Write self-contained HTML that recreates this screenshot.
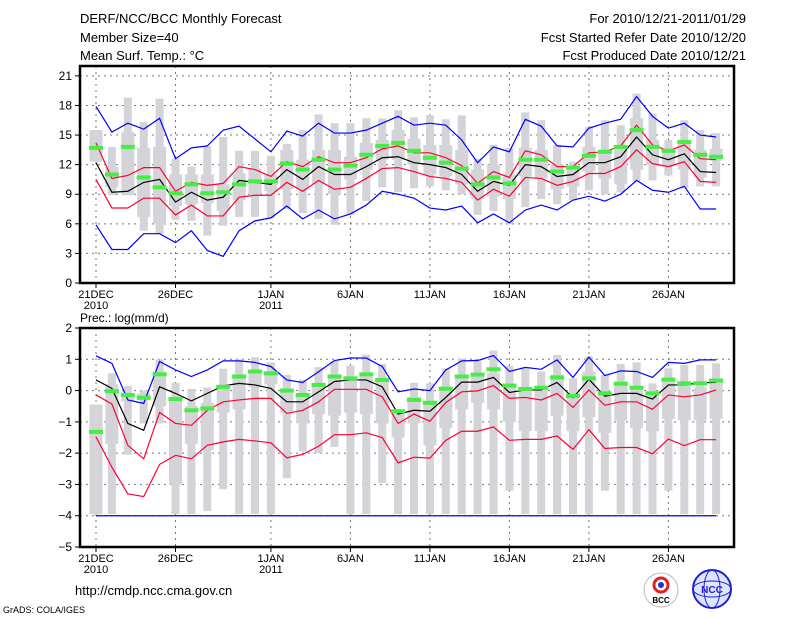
<!DOCTYPE html>
<html><head><meta charset="utf-8"><style>
body{margin:0;background:#fff;width:800px;height:618px;overflow:hidden;font-family:"Liberation Sans",sans-serif;}
svg{display:block}
</style></head><body>
<svg id="chart" width="800" height="618" xmlns="http://www.w3.org/2000/svg">
<g font-size="13" fill="#000">
<text x="80" y="23">DERF/NCC/BCC Monthly Forecast</text>
<text x="80" y="42">Member Size=40</text>
<text x="80" y="60">Mean Surf. Temp.: °C</text>
<text x="746" y="23" text-anchor="end">For 2010/12/21-2011/01/29</text>
<text x="746" y="42" text-anchor="end">Fcst Started Refer Date 2010/12/20</text>
<text x="746" y="60" text-anchor="end">Fcst Produced Date 2010/12/21</text>
</g>
<text x="80" y="322" font-size="12">Prec.: log(mm/d)</text>
<text x="75" y="595" font-size="13">http://cmdp.ncc.cma.gov.cn</text>
<text x="3" y="613" font-size="9">GrADS: COLA/IGES</text>
<g>
<circle cx="661" cy="590" r="17" fill="#fff" stroke="#bbb"/>
<circle cx="661" cy="585" r="7" fill="none" stroke="#d22" stroke-width="3"/>
<circle cx="661" cy="585" r="3" fill="#23c"/>
<text x="661" y="603" font-size="8" text-anchor="middle" font-weight="bold">BCC</text>
</g>
<g>
<circle cx="712" cy="589" r="19" fill="#dde4ff" stroke="#22c" stroke-width="2"/>
<ellipse cx="712" cy="589" rx="19" ry="8" fill="none" stroke="#22c"/>
<ellipse cx="712" cy="589" rx="8" ry="19" fill="none" stroke="#22c"/>
<text x="712" y="593" font-size="10" text-anchor="middle" fill="#22c" font-weight="bold">NCC</text>
</g>
</svg>
<script>
// ---- Temperature data (°C) ----
const days = ['21DEC','','','','','26DEC','','','','','','1JAN','','','','','6JAN','','','','','11JAN','','','','','16JAN','','','','','21JAN','','','','','26JAN','','',''];
const yearLabels = {0:'2010', 11:'2011'};
const tTicks = [0,3,6,9,12,15,18,21];
const tBlueHi = [17.9,15.3,16.2,15.6,16.7,12.6,13.7,13.9,15.5,15.9,14.6,13.3,15.4,14.9,16.2,15.2,15.2,15.5,16.2,16.9,16.0,16.2,16.0,14.5,12.2,13.8,13.3,16.6,15.9,13.9,13.8,15.7,16.2,16.6,18.9,16.9,15.7,16.2,15.0,14.8];
const tBlueLo = [5.9,3.4,3.4,5.0,5.0,4.1,5.3,3.3,2.7,5.3,6.3,6.6,7.8,6.5,7.4,6.5,7.0,7.9,9.3,9.0,8.6,7.6,7.4,7.8,6.1,7.0,6.1,7.4,7.9,7.4,8.4,8.8,8.3,9.0,10.4,9.4,9.2,9.8,7.5,7.5];
const tMean = [12.2,9.2,9.3,10.2,10.5,8.2,9.2,8.4,8.7,10.4,10.2,10.0,11.5,10.5,11.8,11.0,11.0,11.8,12.7,12.8,12.2,12.0,11.7,11.0,9.3,10.3,9.9,12.0,11.8,10.8,11.0,12.2,12.2,12.8,14.8,13.0,12.5,13.1,11.3,11.2];
const tRedHi = [14.2,10.6,10.9,11.7,11.7,9.3,10.2,9.9,10.1,11.8,11.5,10.8,12.3,11.8,12.8,12.2,12.2,12.7,13.6,13.9,13.2,13.2,12.7,11.9,10.1,11.3,10.7,13.4,13.0,11.8,11.8,13.2,13.3,13.9,16.0,14.0,13.4,14.0,12.6,12.5];
const tRedLo = [10.5,7.6,7.6,8.6,8.6,6.9,7.9,6.8,6.8,8.7,8.9,8.9,10.2,9.3,10.4,9.5,9.7,10.6,11.6,11.7,11.3,10.8,10.6,10.2,8.4,9.5,8.8,10.7,10.6,9.9,10.3,11.1,11.1,11.8,13.5,12.1,11.8,12.3,10.3,10.2];
const tObs = [13.7,11.0,13.8,10.7,9.7,9.1,10.0,9.1,9.2,10.0,10.3,10.3,12.1,11.5,12.5,11.5,11.9,13.0,13.9,14.2,13.4,12.7,12.2,11.6,10.0,10.7,10.1,12.5,12.5,11.3,11.7,12.9,13.3,13.8,15.5,13.8,13.4,14.3,13.0,12.8];
const tWhiskHi = [15.5,13.8,18.8,16.3,18.7,12.6,11.8,13.9,14.8,13.4,13.4,12.9,14.1,15.5,17.1,16.2,16.2,16.7,16.7,17.5,16.8,17.0,16.6,17.0,12.6,14.0,13.7,17.3,16.5,14.0,12.3,15.8,16.5,16.0,19.2,17.2,14.5,16.5,15.5,15.2];
const tWhiskLo = [12.3,8.9,8.9,5.3,5.0,6.4,6.3,4.8,5.8,6.7,6.7,6.6,7.5,7.1,6.5,5.9,6.9,8.3,9.7,9.2,9.6,9.8,9.4,9.0,6.9,7.3,6.0,7.7,8.5,8.0,8.4,9.4,9.0,9.2,10.3,10.4,10.9,9.6,9.8,9.8];
const tBoxHi = [15.5,11.8,15.3,13.7,13.8,11.0,11.0,11.0,10.0,11.1,11.6,11.0,13.5,12.5,13.5,13.5,12.8,14.2,14.5,15.5,14.6,14.0,14.0,13.5,11.5,12.0,11.0,13.7,13.5,12.0,11.8,13.8,13.5,13.9,16.7,14.5,13.5,14.5,13.5,13.6];
const tBoxLo = [12.3,9.7,8.9,6.7,6.0,7.8,8.0,8.1,7.3,8.4,9.0,9.3,9.5,9.6,10.0,9.0,10.5,11.5,12.5,12.5,12.0,11.0,10.8,10.0,8.5,8.8,8.5,10.8,10.6,9.5,9.8,11.3,10.6,10.0,11.5,12.0,11.8,11.5,10.7,12.4];
// ---- Precipitation data (log mm/d) ----
const pTicks = [-5,-4,-3,-2,-1,0,1,2];
const pBlueHi = [1.11,0.87,-0.3,-0.41,0.93,0.66,0.45,0.66,0.95,0.95,0.9,0.77,0.34,0.26,0.6,0.96,1.04,1.04,0.77,-0.04,0.05,0.0,0.66,0.95,0.96,1.12,0.61,0.74,0.68,0.98,0.42,1.07,0.48,0.63,0.61,0.42,0.9,0.87,0.98,0.98];
const pBlueLo = [-4,-4,-4,-4,-4,-4,-4,-4,-4,-4,-4,-4,-4,-4,-4,-4,-4,-4,-4,-4,-4,-4,-4,-4,-4,-4,-4,-4,-4,-4,-4,-4,-4,-4,-4,-4,-4,-4,-4,-4];
const pMean = [0.34,0.07,-1.05,-1.27,0.12,-0.09,-0.33,-0.09,0.15,0.23,0.18,0.07,-0.36,-0.36,-0.04,0.29,0.34,0.34,0.12,-0.75,-0.63,-0.66,-0.22,0.27,0.27,0.42,-0.06,0.02,0.02,0.26,-0.23,0.36,-0.18,-0.09,-0.09,-0.27,0.18,0.18,0.25,0.26];
const pRedHi = [-0.14,-0.43,-1.75,-2.18,-0.7,-1.05,-1.11,-0.63,-0.36,-0.3,-0.25,-0.25,-0.73,-0.63,-0.36,0.04,0.04,0.04,-0.2,-1.05,-0.75,-0.98,-0.38,-0.04,-0.01,0.16,-0.25,-0.22,-0.3,-0.09,-0.54,0.02,-0.47,-0.36,-0.36,-0.6,-0.14,-0.2,-0.14,0.02];
const pRedLo = [-1.48,-2.45,-3.3,-3.39,-2.36,-2.07,-2.18,-1.75,-1.64,-1.56,-1.61,-1.67,-2.15,-2.04,-1.78,-1.41,-1.41,-1.35,-1.5,-2.31,-2.13,-2.16,-1.59,-1.3,-1.3,-1.16,-1.59,-1.56,-1.56,-1.45,-1.88,-1.25,-1.85,-1.82,-1.82,-2.02,-1.55,-1.76,-1.57,-1.57];
const pObs = [-1.32,-0.02,-0.14,-0.23,0.52,-0.27,-0.63,-0.57,0.12,0.45,0.61,0.55,0.0,-0.14,0.18,0.45,0.39,0.52,0.34,-0.66,-0.3,-0.39,0.06,0.45,0.51,0.68,0.16,0.05,0.09,0.42,-0.17,0.39,-0.09,0.22,0.09,-0.09,0.35,0.23,0.23,0.32];
const pWhiskHi = [-0.45,0.55,0.15,0.0,1.0,0.25,0.05,0.1,0.7,1.0,1.07,0.9,0.5,0.35,0.75,0.95,0.8,1.15,0.85,-0.6,0.25,0.23,0.71,1.03,1.0,1.28,0.79,0.71,0.61,1.14,0.39,1.09,0.5,0.85,0.9,0.23,0.71,0.82,0.82,0.87];
const pWhiskLo = [-3.95,-3.95,-2.05,-1.05,-1.05,-3.95,-3.95,-3.85,-3.15,-3.95,-3.95,-3.95,-2.8,-1.95,-2.0,-1.8,-3.95,-3.95,-2.95,-3.95,-3.95,-3.95,-3.95,-3.95,-3.95,-3.95,-3.2,-3.95,-3.95,-3.95,-3.95,-3.95,-3.2,-3.95,-3.95,-3.95,-3.2,-3.95,-3.95,-3.95];
const pBoxHi = [-0.45,0.2,-0.1,-0.1,0.6,-0.3,-0.5,-0.4,0.15,0.45,0.65,0.6,0.0,-0.15,0.2,0.5,0.45,0.55,0.35,-0.6,-0.2,-0.4,0.1,0.45,0.55,0.55,0.1,0.1,0.05,0.5,-0.1,0.6,-0.1,0.2,0.1,-0.2,0.3,0.2,0.1,0.3];
const pBoxLo = [-3.95,-1.7,-0.35,-0.3,-0.5,-3.0,-1.7,-1.9,-0.7,-0.6,0.1,0.2,-0.7,-1.05,-0.75,-0.8,-0.7,-0.75,-1.05,-1.5,-1.05,-1.75,-1.2,-0.6,-0.4,-0.6,-1.0,-1.3,-1.3,-0.8,-1.3,-0.85,-1.35,-0.95,-1.2,-1.3,-0.9,-0.95,-0.95,-0.9];

const NS='http://www.w3.org/2000/svg';
const svg=document.getElementById('chart');
const X0=80,X1=734;
function xs(i){return 96+i*15.9;}
function mk(tag,attrs,parent){const e=document.createElementNS(NS,tag);for(const k in attrs)e.setAttribute(k,attrs[k]);(parent||svg).appendChild(e);return e;}

function panel(name,Y0,Y1,vmin,vmax,ticks,S){
  const ys=v=>Y1-(v-vmin)/(vmax-vmin)*(Y1-Y0);
  const g=mk('g',{});
  
  
  // grid
  ticks.forEach(t=>{
    if(t>vmin&&t<vmax){const l=mk('line',{x1:X0,x2:X1,y1:ys(t),y2:ys(t),stroke:'#777','stroke-dasharray':'2,4','stroke-width':1},g);
    
    }
    const tk=mk('line',{x1:X0-5,x2:X0,y1:ys(t),y2:ys(t),stroke:'#000'},g);
    
    
    const tx=mk('text',{x:X0-8,y:ys(t)+4,'font-size':12,'text-anchor':'end'},g);
    tx.textContent=(t<0?'\u2212'+(-t):t);
    
    
  });
  days.forEach((d,i)=>{
    if(!d)return;
    const l=mk('line',{x1:xs(i),x2:xs(i),y1:Y0,y2:Y1,stroke:'#777','stroke-dasharray':'2,4'},g);
    
    
    const tk=mk('line',{x1:xs(i),x2:xs(i),y1:Y1,y2:Y1+5,stroke:'#000'},g);
    
    
    const tx=mk('text',{x:xs(i),y:Y1+15,'font-size':11,'text-anchor':'middle'},g);
    tx.textContent=d;
    
    
    if(yearLabels[i]){const ty=mk('text',{x:xs(i),y:Y1+26,'font-size':11,'text-anchor':'middle'},g);
      ty.textContent=yearLabels[i];
      
      }
  });
  // boxes
  S.wHi.forEach((v,i)=>{
    const w=mk('rect',{x:xs(i)-4,y:ys(v),width:8,height:ys(S.wLo[i])-ys(v),fill:'#d3d3d8'},g);
    
    
    const b=mk('rect',{x:xs(i)-6.5,y:ys(S.bHi[i]),width:13,height:Math.max(1,ys(S.bLo[i])-ys(S.bHi[i])),fill:'#d3d3d8'},g);
    
    
  });
  const line=(arr,col,nm)=>{const p=mk('polyline',{points:arr.map((v,i)=>xs(i)+','+ys(v)).join(' '),fill:'none',stroke:col,'stroke-width':1.2},g);
    
    };
  line(S.bHi2,'#0000ff','max-line');line(S.bLo2,'#0000ff','min-line');
  line(S.rHi,'#ff0033','upper-line');line(S.rLo,'#ff0033','lower-line');
  line(S.mean,'#000','ensemble-mean-line');
  S.obs.forEach((v,i)=>{const r=mk('rect',{x:xs(i)-7,y:ys(v)-2,width:14,height:4,fill:'#44ee44'},g);
    
    });
  const f=mk('rect',{x:X0,y:Y0,width:X1-X0,height:Y1-Y0,fill:'none',stroke:'#000','stroke-width':2.5},g);
  
  
}
panel('temperature-panel',66,283,0,22,tTicks,{wHi:tWhiskHi,wLo:tWhiskLo,bHi:tBoxHi,bLo:tBoxLo,bHi2:tBlueHi,bLo2:tBlueLo,rHi:tRedHi,rLo:tRedLo,mean:tMean,obs:tObs});
panel('precipitation-panel',328,547,-5,2,pTicks,{wHi:pWhiskHi,wLo:pWhiskLo,bHi:pBoxHi,bLo:pBoxLo,bHi2:pBlueHi,bLo2:pBlueLo,rHi:pRedHi,rLo:pRedLo,mean:pMean,obs:pObs});
</script>
</body></html>
